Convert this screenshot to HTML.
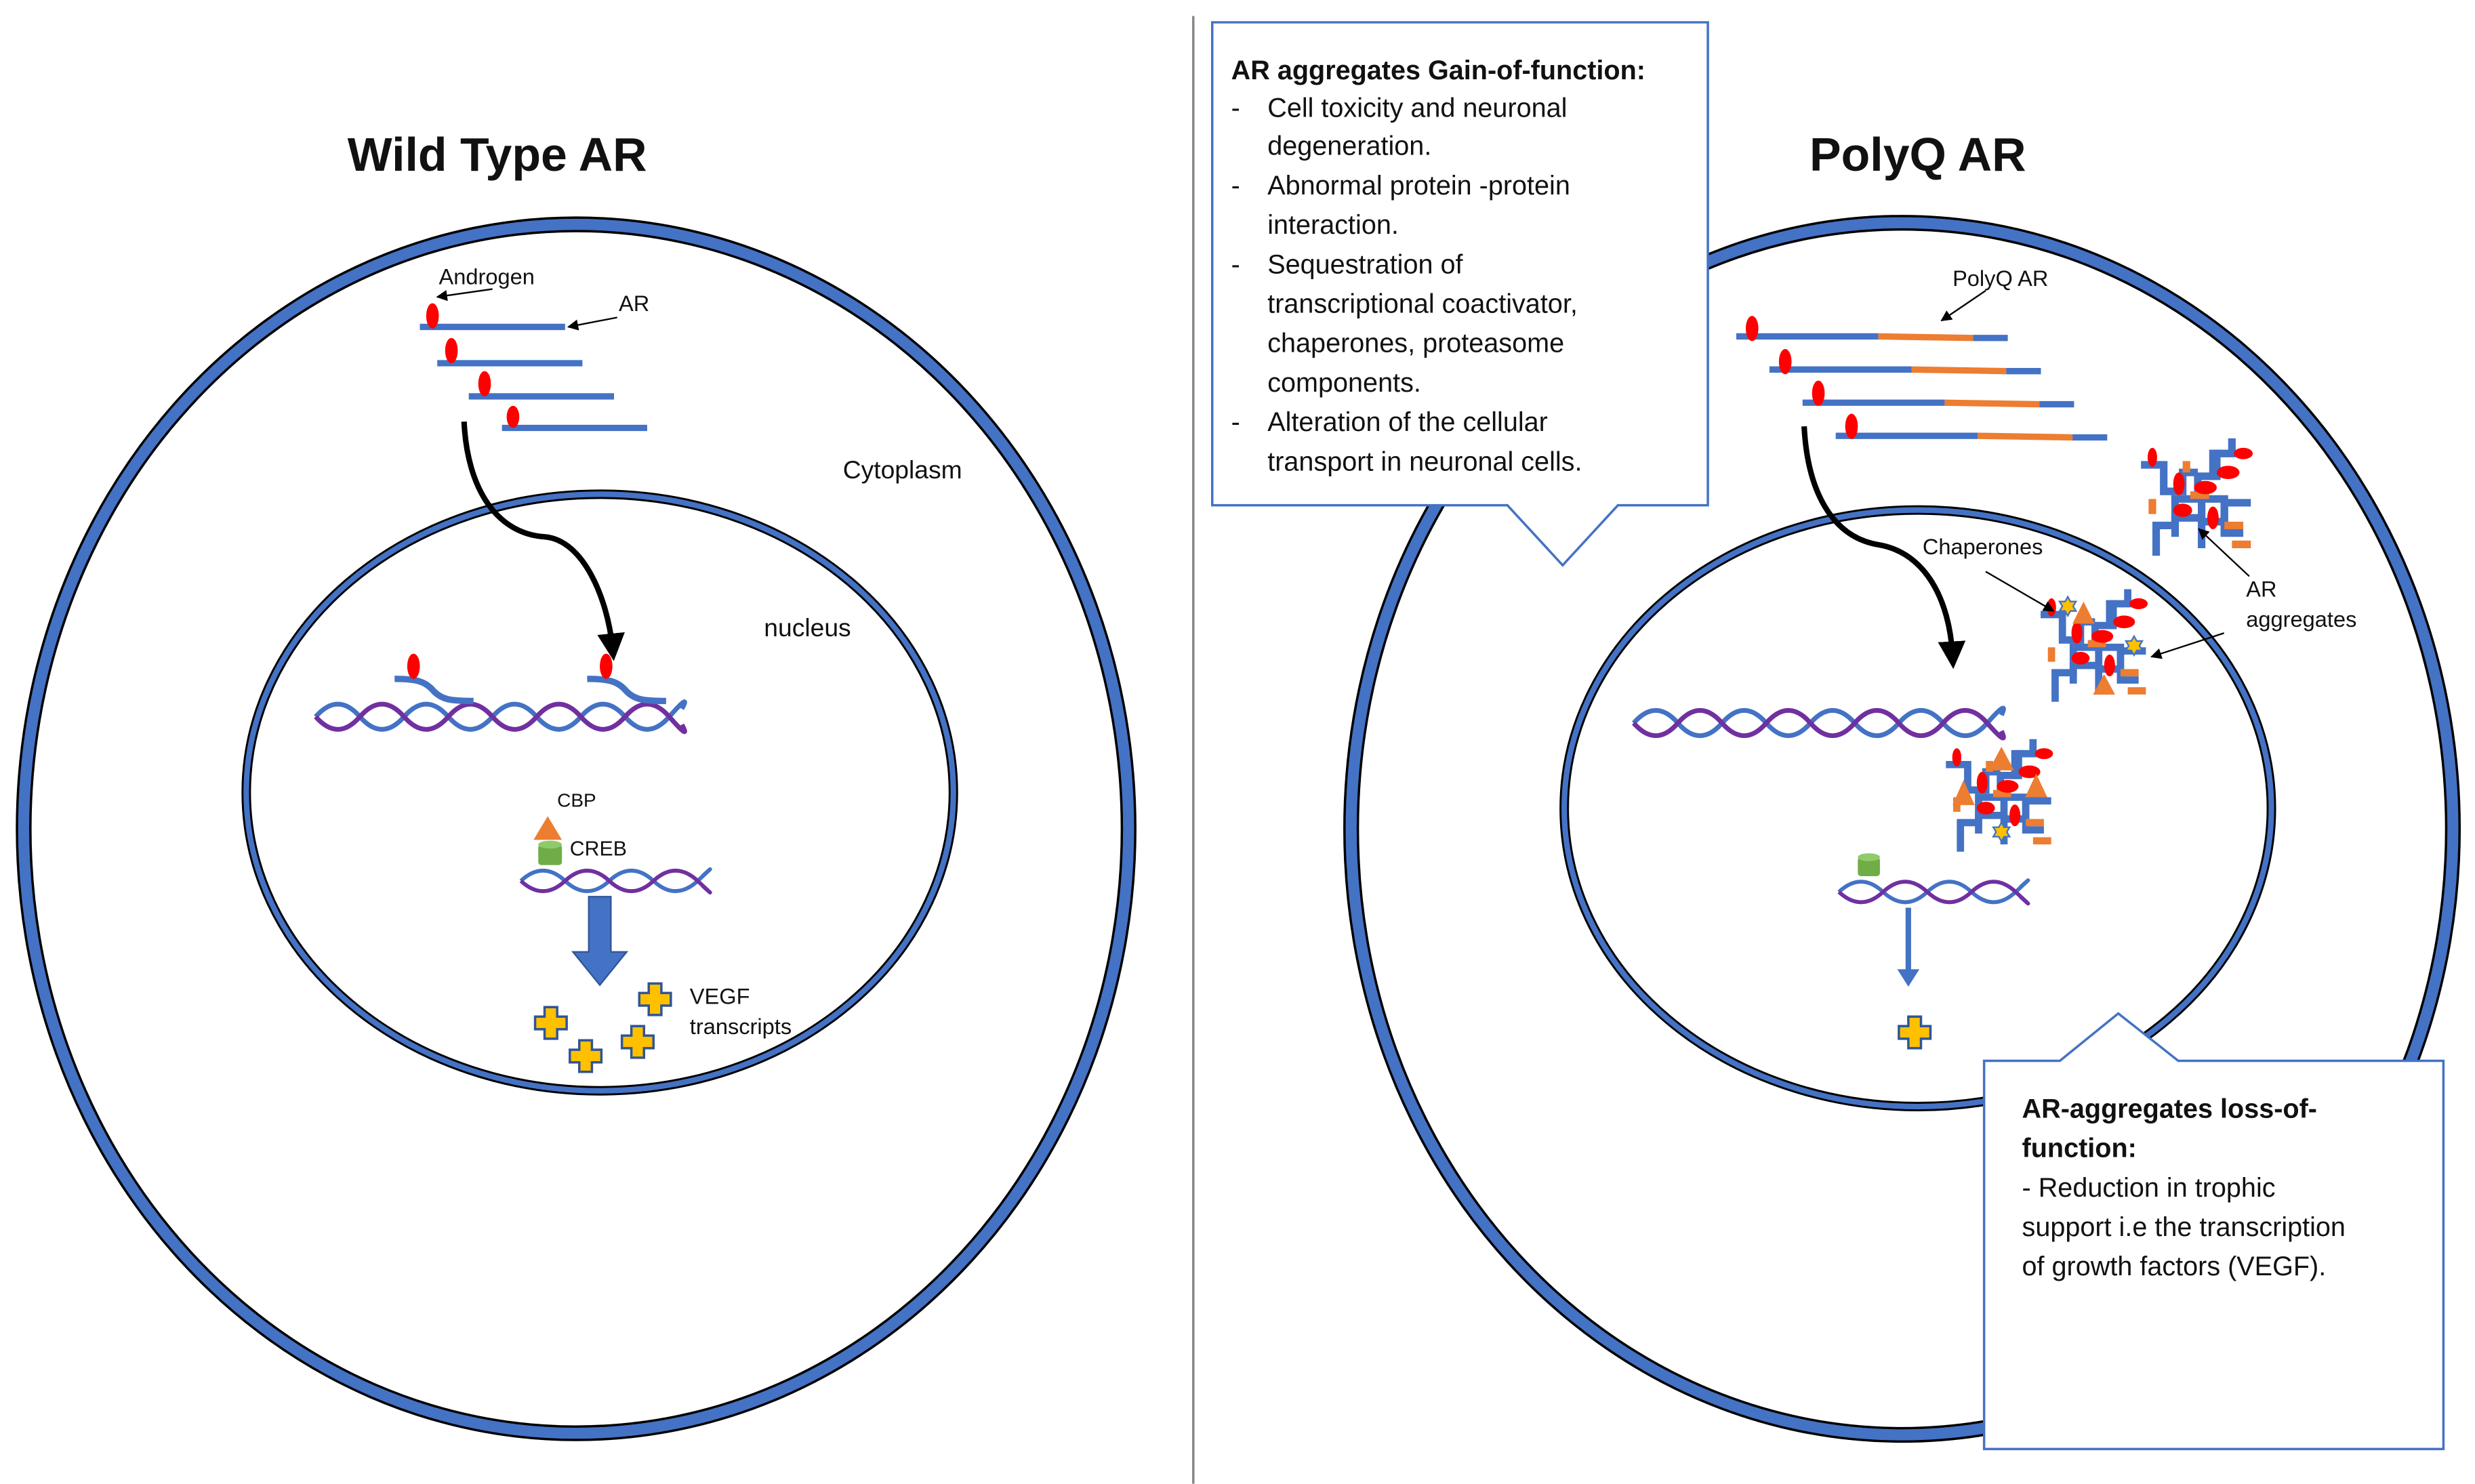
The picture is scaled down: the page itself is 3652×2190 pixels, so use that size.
<!DOCTYPE html>
<html><head><meta charset="utf-8"><style>
html,body{margin:0;padding:0;background:#fff}
svg{display:block}
text{font-family:"Liberation Sans",sans-serif;fill:#111}
</style></head><body>
<svg width="3652" height="2190" viewBox="0 0 1568 940" xmlns="http://www.w3.org/2000/svg">
<defs>
<marker id="ah" viewBox="0 0 10 10" refX="9" refY="5" markerWidth="7" markerHeight="7" orient="auto" markerUnits="userSpaceOnUse"><path d="M0,0 L10,5 L0,10 z" fill="#000"/></marker>
<marker id="ahb" viewBox="0 0 10 10" refX="5" refY="5" markerWidth="5" markerHeight="5" orient="auto"><path d="M0,0 L10,5 L0,10 z" fill="#000"/></marker>
<g id="agg">
 <g stroke-width="4" fill="none" stroke-linecap="butt">
  <path d="M-28,-18 h12 v14 h10 v-10 h8" stroke="#4472c4"/>
  <path d="M-20,30 v-16 h10 v-14 h12 v-12 h10 v-14" stroke="#4472c4"/>
  <path d="M-10,20 v-10 h14 v-10 h12 v18 h10" stroke="#4472c4"/>
  <path d="M4,26 v-14 h12 v-10 h14" stroke="#4472c4"/>
  <path d="M10,-10 v-14 h10 v-8" stroke="#4472c4"/>
  <path d="M-22,8 v-8" stroke="#ed7d31"/>
  <path d="M-2,-2 h10" stroke="#ed7d31"/>
  <path d="M16,14 h10" stroke="#ed7d31"/>
  <path d="M20,24 h10" stroke="#ed7d31"/>
  <path d="M-4,-14 v-6" stroke="#ed7d31"/>
 </g>
 <g fill="#f00">
  <ellipse cx="-22" cy="-22" rx="2.5" ry="5"/>
  <ellipse cx="-8" cy="-8" rx="3" ry="6"/>
  <ellipse cx="6" cy="-6" rx="6" ry="3.5"/>
  <ellipse cx="18" cy="-14" rx="6" ry="3.5"/>
  <ellipse cx="-6" cy="6" rx="5" ry="3.5"/>
  <ellipse cx="10" cy="10" rx="3" ry="6"/>
  <ellipse cx="26" cy="-24" rx="5" ry="3"/>
 </g>
</g>
<path id="cross" d="M-4,-10 h8 v6 h6 v8 h-6 v6 h-8 v-6 h-6 v-8 h6 z" fill="#ffc000" stroke="#2f5597" stroke-width="1.5"/>
<polygon id="star" points="0,-6 1.7,-3 5.2,-3 3.4,0 5.2,3 1.7,3 0,6 -1.7,3 -5.2,3 -3.4,0 -5.2,-3 -1.7,-3" fill="#ffc000" stroke="#4472c4" stroke-width="1"/>
</defs>

<line x1="756" y1="10" x2="756" y2="940" stroke="#888" stroke-width="1.5"/>

<!-- LEFT cell -->
<ellipse cx="365" cy="525" rx="350" ry="383" fill="none" stroke="#000" stroke-width="10"/>
<ellipse cx="365" cy="525" rx="350" ry="383" fill="none" stroke="#4472c4" stroke-width="7"/>
<ellipse cx="380" cy="502" rx="224" ry="189" fill="none" stroke="#000" stroke-width="6"/>
<ellipse cx="380" cy="502" rx="224" ry="189" fill="none" stroke="#4472c4" stroke-width="3.5"/>

<text x="315" y="108" font-size="30" font-weight="bold" text-anchor="middle">Wild Type AR</text>
<text x="534" y="303" font-size="16">Cytoplasm</text>
<text x="484" y="403" font-size="16">nucleus</text>

<g stroke="#4472c4" stroke-width="4">
 <line x1="266" y1="207" x2="358" y2="207"/>
 <line x1="277" y1="230" x2="369" y2="230"/>
 <line x1="297" y1="251" x2="389" y2="251"/>
 <line x1="318" y1="271" x2="410" y2="271"/>
</g>
<g fill="#f00">
 <ellipse cx="274" cy="200" rx="4" ry="8"/>
 <ellipse cx="286" cy="222" rx="4" ry="8"/>
 <ellipse cx="307" cy="243" rx="4" ry="8"/>
 <ellipse cx="325" cy="264" rx="4" ry="7"/>
</g>
<text x="278" y="180" font-size="14">Androgen</text>
<line x1="312" y1="183" x2="277" y2="188" stroke="#000" stroke-width="1" marker-end="url(#ah)"/>
<text x="392" y="197" font-size="14">AR</text>
<line x1="391" y1="201" x2="360" y2="207" stroke="#000" stroke-width="1" marker-end="url(#ah)"/>

<path d="M294,267 C296,310 315,338 345,340 C370,342 385,380 388,410" fill="none" stroke="#000" stroke-width="3.5" marker-end="url(#ahb)"/>

<!-- left big helix -->
<path d="M200,454 q14,-16 28,0 t28,0 t28,0 t28,0 t28,0 t28,0 t28,0 t28,0 t8,-5" fill="none" stroke="#4472c4" stroke-width="3"/>
<path d="M200,454 q14,16 28,0 t28,0 t28,0 t28,0 t28,0 t28,0 t28,0 t28,0 t8,5" fill="none" stroke="#7030a0" stroke-width="3"/>
<path d="M250,430 c15,0 20,2 25,8 c5,5 10,6 25,6" fill="none" stroke="#4472c4" stroke-width="4"/>
<path d="M372,430 c15,0 20,2 25,8 c5,5 10,6 25,6" fill="none" stroke="#4472c4" stroke-width="4"/>
<ellipse cx="262" cy="422" rx="4" ry="8" fill="#f00"/>
<ellipse cx="384" cy="422" rx="4" ry="8" fill="#f00"/>

<!-- small helix left -->
<path d="M330,558 q14,-13 28,0 t28,0 t28,0 t28,0 t3,-3" fill="none" stroke="#4472c4" stroke-width="2.5"/>
<path d="M330,558 q14,13 28,0 t28,0 t28,0 t28,0 t3,3" fill="none" stroke="#7030a0" stroke-width="2.5"/>
<polygon points="347,517 356,532 338,532" fill="#ed7d31"/>
<rect x="341" y="535" width="15" height="13" rx="2" fill="#70ad47"/>
<ellipse cx="348.5" cy="535" rx="7.5" ry="2.5" fill="#8fcb6a"/>
<text x="353" y="511" font-size="12">CBP</text>
<text x="361" y="542" font-size="13">CREB</text>
<polygon points="373,568 387,568 387,603 397,603 380,624 363,603 373,603" fill="#4472c4" stroke="#2f5597" stroke-width="1"/>
<use href="#cross" x="349" y="648"/>
<use href="#cross" x="371" y="669"/>
<use href="#cross" x="404" y="660"/>
<use href="#cross" x="415" y="633"/>
<text x="437" y="636" font-size="14">VEGF</text>
<text x="437" y="655" font-size="14">transcripts</text>

<!-- RIGHT cell -->
<ellipse cx="1205" cy="525" rx="349" ry="384" fill="none" stroke="#000" stroke-width="10"/>
<ellipse cx="1205" cy="525" rx="349" ry="384" fill="none" stroke="#4472c4" stroke-width="7"/>
<ellipse cx="1215" cy="512" rx="224" ry="189" fill="none" stroke="#000" stroke-width="6"/>
<ellipse cx="1215" cy="512" rx="224" ry="189" fill="none" stroke="#4472c4" stroke-width="3.5"/>

<text x="1215" y="108" font-size="30" font-weight="bold" text-anchor="middle">PolyQ AR</text>

<g stroke-width="4">
 <line x1="1100" y1="213" x2="1190" y2="213" stroke="#4472c4"/>
 <line x1="1190" y1="213" x2="1250" y2="214" stroke="#ed7d31"/>
 <line x1="1250" y1="214" x2="1272" y2="214" stroke="#4472c4"/>
 <line x1="1121" y1="234" x2="1211" y2="234" stroke="#4472c4"/>
 <line x1="1211" y1="234" x2="1271" y2="235" stroke="#ed7d31"/>
 <line x1="1271" y1="235" x2="1293" y2="235" stroke="#4472c4"/>
 <line x1="1142" y1="255" x2="1232" y2="255" stroke="#4472c4"/>
 <line x1="1232" y1="255" x2="1292" y2="256" stroke="#ed7d31"/>
 <line x1="1292" y1="256" x2="1314" y2="256" stroke="#4472c4"/>
 <line x1="1163" y1="276" x2="1253" y2="276" stroke="#4472c4"/>
 <line x1="1253" y1="276" x2="1313" y2="277" stroke="#ed7d31"/>
 <line x1="1313" y1="277" x2="1335" y2="277" stroke="#4472c4"/>
</g>
<g fill="#f00">
 <ellipse cx="1110" cy="208" rx="4" ry="8"/>
 <ellipse cx="1131" cy="229" rx="4" ry="8"/>
 <ellipse cx="1152" cy="249" rx="4" ry="8"/>
 <ellipse cx="1173" cy="270" rx="4" ry="8"/>
</g>
<text x="1237" y="181" font-size="14">PolyQ AR</text>
<line x1="1258" y1="184" x2="1230" y2="203" stroke="#000" stroke-width="1" marker-end="url(#ah)"/>

<path d="M1143,270 C1145,310 1160,340 1190,345 C1220,350 1235,380 1237,415" fill="none" stroke="#000" stroke-width="3.5" marker-end="url(#ahb)"/>

<use href="#agg" transform="translate(1390,316) scale(1.2)"/>
<use href="#agg" transform="translate(1325,410) scale(1.15)"/>
<use href="#agg" transform="translate(1265,505) scale(1.15)"/>
<polygon points="1320,381 1327,395 1313,395" fill="#ed7d31"/>
<polygon points="1333,427 1340,440 1326,440" fill="#ed7d31"/>
<use href="#star" x="1310" y="384"/>
<use href="#star" x="1352" y="409"/>
<polygon points="1268,473 1276,488 1260,488" fill="#ed7d31"/>
<polygon points="1244,494 1251,510 1237,510" fill="#ed7d31"/>
<polygon points="1290,490 1297,505 1283,505" fill="#ed7d31"/>
<use href="#star" x="1268" y="527"/>

<text x="1218" y="351" font-size="14">Chaperones</text>
<line x1="1258" y1="362" x2="1301" y2="387" stroke="#000" stroke-width="1" marker-end="url(#ah)"/>
<text x="1423" y="378" font-size="14">AR</text>
<text x="1423" y="397" font-size="14">aggregates</text>
<line x1="1425" y1="365" x2="1393" y2="335" stroke="#000" stroke-width="1" marker-end="url(#ah)"/>
<line x1="1409" y1="401" x2="1363" y2="416" stroke="#000" stroke-width="1" marker-end="url(#ah)"/>

<!-- right helix -->
<path d="M1035,458 q14,-16 28,0 t28,0 t28,0 t28,0 t28,0 t28,0 t28,0 t28,0 t9,-5" fill="none" stroke="#4472c4" stroke-width="3"/>
<path d="M1035,458 q14,16 28,0 t28,0 t28,0 t28,0 t28,0 t28,0 t28,0 t28,0 t9,5" fill="none" stroke="#7030a0" stroke-width="3"/>

<path d="M1165,565 q14,-13 28,0 t28,0 t28,0 t28,0 t3,-3" fill="none" stroke="#4472c4" stroke-width="2.5"/>
<path d="M1165,565 q14,13 28,0 t28,0 t28,0 t28,0 t3,3" fill="none" stroke="#7030a0" stroke-width="2.5"/>
<rect x="1177" y="543" width="14" height="12" rx="2" fill="#70ad47"/>
<ellipse cx="1184" cy="543" rx="7" ry="2.5" fill="#8fcb6a"/>
<line x1="1209" y1="575" x2="1209" y2="615" stroke="#4472c4" stroke-width="3.5"/>
<polygon points="1202,614 1216,614 1209,625" fill="#4472c4"/>
<use href="#cross" x="1213" y="654"/>

<!-- top callout -->
<path d="M768,14 H1082 V320 H1025 L990,358 L955,320 H768 Z" fill="#fff" stroke="#4472c4" stroke-width="1.5"/>
<g font-size="17">
<text x="780" y="50" font-weight="bold">AR aggregates Gain-of-function:</text>
<text x="780" y="74">-</text><text x="803" y="74">Cell toxicity and neuronal</text>
<text x="803" y="98">degeneration.</text>
<text x="780" y="123">-</text><text x="803" y="123">Abnormal protein -protein</text>
<text x="803" y="148">interaction.</text>
<text x="780" y="173">-</text><text x="803" y="173">Sequestration of</text>
<text x="803" y="198">transcriptional coactivator,</text>
<text x="803" y="223">chaperones, proteasome</text>
<text x="803" y="248">components.</text>
<text x="780" y="273">-</text><text x="803" y="273">Alteration of the cellular</text>
<text x="803" y="298">transport in neuronal cells.</text>
</g>

<!-- bottom callout -->
<path d="M1257,672 H1305 L1342,642 L1380,672 H1548 V918 H1257 Z" fill="#fff" stroke="#4472c4" stroke-width="1.5"/>
<g font-size="17">
<text x="1281" y="708" font-weight="bold">AR-aggregates loss-of-</text>
<text x="1281" y="733" font-weight="bold">function:</text>
<text x="1281" y="758">- Reduction in trophic</text>
<text x="1281" y="783">support  i.e the transcription</text>
<text x="1281" y="808">of growth factors (VEGF).</text>
</g>
</svg>
</body></html>
